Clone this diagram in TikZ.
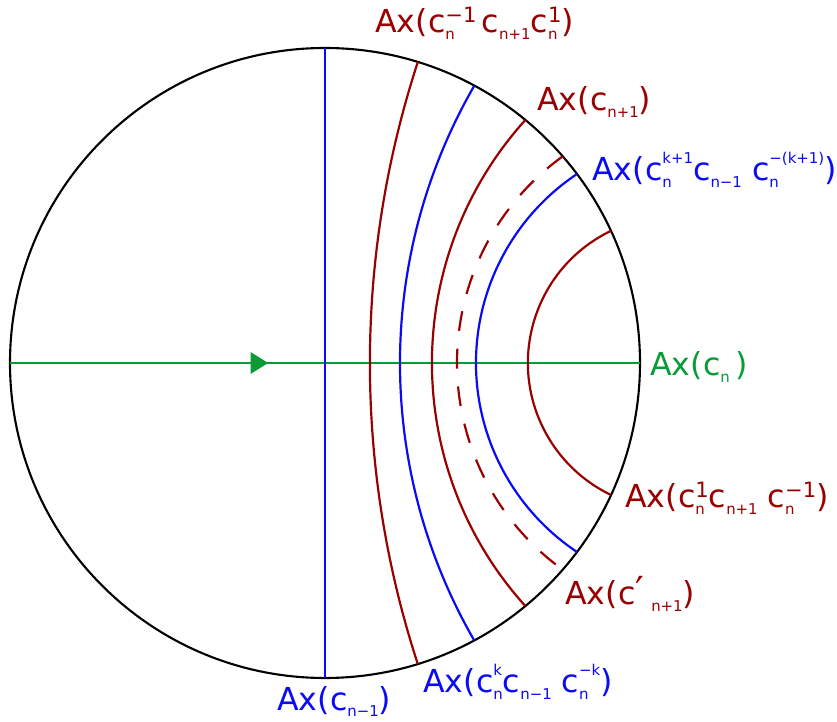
\documentclass[tikz,border=0pt]{standalone}
\usepackage{fontspec}
\setmainfont{DejaVu Sans}
\usetikzlibrary{arrows.meta,positioning,decorations.markings}
\definecolor{axred}{RGB}{153,0,0}
\definecolor{axblue}{RGB}{10,10,245}
\definecolor{axgreen}{RGB}{10,155,55}
% small indices of the generators
\newcommand{\dn}[1]{\raisebox{-0.22em}{\fontsize{8.5}{8.5}\selectfont #1}}
\newcommand{\up}[1]{\raisebox{0.55em}{\fontsize{8.5}{8.5}\selectfont #1}}
\newcommand{\Up}[1]{\raisebox{0.32em}{\fontsize{12}{12}\selectfont #1}}
\newcommand{\sx}[2]{\setbox0\hbox{#1}\setbox2\hbox{#2}%
  \ifdim\wd0>\wd2 \rlap{\box2}\box0\else\rlap{\box0}\box2\fi}

\begin{document}
\begin{tikzpicture}[
  disk/.style={black, line width=1.2pt},
  geo/.style={line width=1.25pt},
  redgeo/.style={geo, axred},
  bluegeo/.style={geo, axblue},
  dashgeo/.style={redgeo, dash pattern=on 11.3pt off 10.2pt},
  axis/.style={geo, line width=1.5pt, axgreen, postaction={decorate},
    decoration={markings, mark=at position 0.41 with {\arrow{Triangle[length=10pt,width=12pt]}}}},
  lbl/.style={anchor=base west, inner sep=0pt, font=\fontsize{18}{22}\selectfont}
]
\useasboundingbox (-6.5,-7.18) rectangle (10.24,7.26);

\draw[disk] (0,0) circle[radius=6.3];

\coordinate (W) at (180:6.3);
\coordinate (E) at (0:6.3);
\coordinate (N) at (90:6.3);
\coordinate (S) at (270:6.3);
\draw[axis] (W) -- (E);
\draw[bluegeo] (N) -- (S);

% arcs from the rim through the axis and back to the rim
\coordinate (g1) at (72.86:6.3);
\coordinate (g2) at (61.7:6.3);
\coordinate (g3) at (50.5:6.3);
\coordinate (g4) at (41.0:6.3);
\coordinate (g5) at (36.87:6.3);
\coordinate (g6) at (24.8:6.3);
\draw[redgeo]  (g1) arc[start angle=161.91, end angle=198.09, radius=19.392];
\draw[bluegeo] (g2) arc[start angle=150.0, end angle=210.0, radius=11.098];
\draw[redgeo]  (g3) arc[start angle=137.95, end angle=222.05, radius=7.258];
\draw[dashgeo] (g4) arc[start angle=125.82, end angle=234.18, radius=5.098];
\draw[bluegeo] (g5) arc[start angle=123.75, end angle=236.25, radius=4.546];
\draw[redgeo]  (g6) arc[start angle=115.67, end angle=244.33, radius=2.93];

\node[lbl, text=axred] (l1) at (1.0,6.60)
  {Ax(c\sx{\Up{−1}}{\dn{n}}\,c\dn{n+1}c\sx{\Up{1}}{\dn{n}})};
\node[lbl, text=axred] (l2) at (4.24,5.04) {Ax(c\dn{n+1})};
\node[lbl, text=axblue] (l3) at (5.34,3.64)
  {Ax(c\sx{\up{k+1}}{\dn{n}} c\dn{n−1} c\sx{\up{−(k+1)}}{\dn{n}} )};
\node[lbl, text=axgreen] (l4) at (6.5,-0.26) {Ax(c\dn{n}\,)};
\node[lbl, text=axred] (l5) at (6.0,-2.90)
  {Ax(c\sx{\Up{1}}{\dn{n}}c\dn{n+1} c\sx{\Up{−1}}{\dn{n}})};
\node[lbl, text=axred] (l6) at (4.8,-4.84)
  {Ax(c{\fontsize{22}{22}\selectfont ′}\hspace{4pt}\dn{n+1})};
\node[lbl, text=axblue] (l7) at (-0.96,-6.94) {Ax(c\dn{n−1})};
\node[lbl, text=axblue] (l8) at (1.96,-6.6)
  {Ax(c\sx{\up{k}}{\dn{n}}c\dn{n−1} c\sx{\up{−k}}{\dn{n}} )};
\end{tikzpicture}
\end{document}
